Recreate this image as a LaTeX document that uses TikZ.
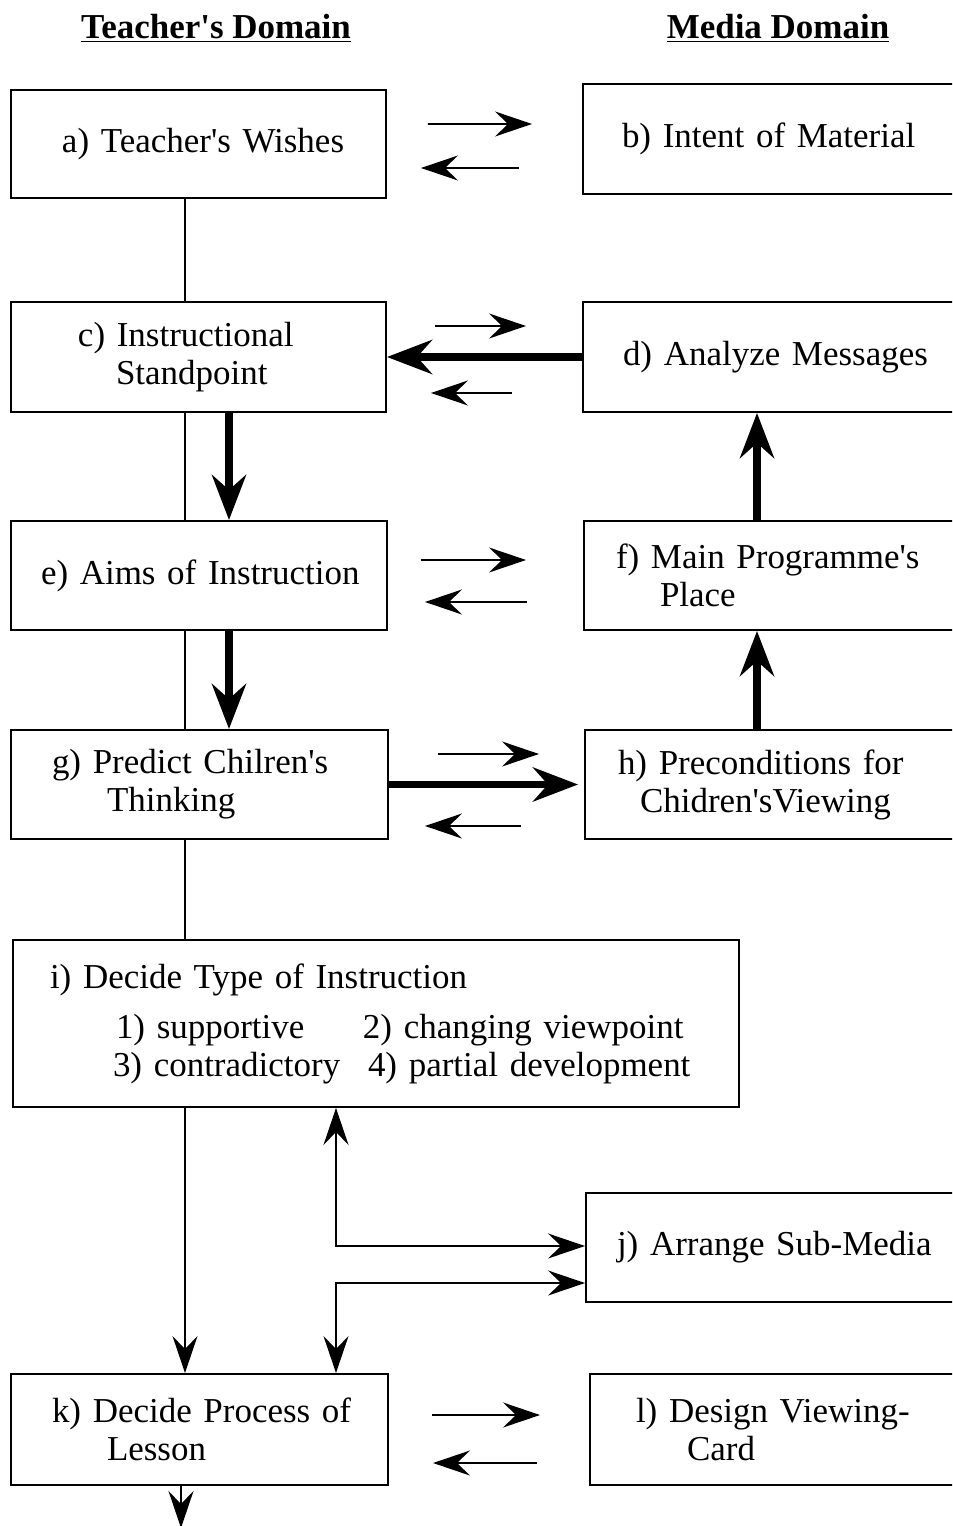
\documentclass[tikz,border=0pt]{standalone}
\usepackage{fontspec}
\setmainfont{Liberation Serif}
\usetikzlibrary{arrows.meta}
\newcommand{\apo}{\textquotesingle}
\tikzset{
  box/.style={draw, line width=1.1pt, inner sep=0pt, align=left,
    font=\fontsize{19.9pt}{21.6pt}\selectfont},
  head/.style={font=\fontsize{19.9pt}{21.6pt}\selectfont\bfseries},
  thinline/.style={line width=1.1pt},
  thinarrow/.style={line width=1.1pt, >={Stealth[length=0.74cm, width=0.5cm, inset=0.26cm]}},
  thickarrow/.style={line width=4.5pt, >={Stealth[length=0.9cm, width=0.68cm, inset=0.3cm]}}
}
\begin{document}
\begin{tikzpicture}
  \useasboundingbox (0,0) rectangle (19.04,-30.52);
  \clip (0,0) rectangle (19.04,-30.52);
  % headings
  \node[head] (thead) at (4.32,-0.56) {\underline{Teacher\apo s Domain}};
  \node[head] (mhead) at (15.56,-0.56) {\underline{Media Domain}};
  % teacher's side
  \node[box, text width=7.5cm, minimum height=2.16cm] (a) at (3.97,-2.88) {\hspace*{1.02cm}a) Teacher\apo s Wishes};
  \node[box, text width=7.5cm, minimum height=2.2cm] (c) at (3.97,-7.14) {\hspace*{1.34cm}c) Instructional\\\hspace*{2.1cm}Standpoint};
  \node[box, text width=7.52cm, minimum height=2.18cm] (e) at (3.98,-11.51) {\hspace*{0.6cm}e) Aims of Instruction};
  \node[box, text width=7.54cm, minimum height=2.18cm] (g) at (3.99,-15.69) {\hspace*{0.82cm}g) Predict Chilren\apo s\\\hspace*{1.92cm}Thinking};
  \node[box, text width=14.52cm, minimum height=3.34cm] (i) at (7.52,-20.47) {\hspace*{0.74cm}i) Decide Type of Instruction\\[0.24cm]
    \hspace*{2.06cm}\makebox[4.94cm][l]{1) supportive}2) changing viewpoint\\
    \hspace*{2cm}\makebox[5.1cm][l]{3) contradictory}4) partial development};
  \node[box, text width=7.54cm, minimum height=2.22cm] (k) at (3.99,-28.59) {\hspace*{0.82cm}k) Decide Process of\\\hspace*{1.92cm}Lesson};
  % media side
  \node[box, text width=7.64cm, minimum height=2.2cm] (b) at (15.48,-2.78) {\hspace*{0.78cm}b) Intent of Material};
  \node[box, text width=7.64cm, minimum height=2.2cm] (d) at (15.48,-7.14) {\hspace*{0.8cm}d) Analyze Messages};
  \node[box, text width=7.62cm, minimum height=2.18cm] (f) at (15.49,-11.51) {\hspace*{0.64cm}f) Main Programme\apo s\\\hspace*{1.52cm}Place};
  \node[box, text width=7.6cm, minimum height=2.18cm] (h) at (15.5,-15.69) {\hspace*{0.66cm}h) Preconditions for\\\hspace*{1.1cm}Chidren\apo sViewing};
  \node[box, text width=7.58cm, minimum height=2.18cm] (j) at (15.51,-24.95) {\hspace*{0.62cm}j) Arrange Sub-Media};
  \node[box, text width=7.5cm, minimum height=2.22cm] (l) at (15.55,-28.59) {\hspace*{0.92cm}l) Design Viewing-\\\hspace*{1.94cm}Card};
  % columns of the vertical links
  \coordinate (ln1) at (3.7,0);
  \coordinate (ln2) at (4.58,0);
  \coordinate (ln3) at (15.14,0);
  \coordinate (ln4) at (6.72,0);
  \coordinate (out) at (3.62,-30.56);
  % vertical links
  \draw[thinline] (a.south -| ln1) -- (c.north -| ln1);
  \draw[thinline] (c.south -| ln1) -- (e.north -| ln1);
  \draw[thinline] (e.south -| ln1) -- (g.north -| ln1);
  \draw[thinline] (g.south -| ln1) -- (i.north -| ln1);
  \draw[thinarrow, ->] (i.south -| ln1) -- (k.north -| ln1);
  \draw[thinarrow, ->] (k.south -| out) -- (out);
  \draw[thickarrow, ->] (c.south -| ln2) -- (e.north -| ln2);
  \draw[thickarrow, ->] (e.south -| ln2) -- (g.north -| ln2);
  \draw[thickarrow, ->] (h.north -| ln3) -- (f.south -| ln3);
  \draw[thickarrow, ->] (f.north -| ln3) -- (d.south -| ln3);
  \draw[thinarrow, <->] (i.south -| ln4) |- ([yshift=0.03cm]j.west);
  \draw[thinarrow, <->] ([yshift=-0.71cm]j.west) -| (k.north -| ln4);
  % thick horizontal links
  \draw[thickarrow, ->] (d.west) -- (c.east);
  \draw[thickarrow, ->, shorten >=0.12cm] (g.east) -- (h.west);
  % pairs of thin arrows
  \draw[thinarrow, ->, shorten <=0.82cm, shorten >=1cm] ([yshift=0.4cm]a.east) -- ([yshift=0.3cm]b.west);
  \draw[thinarrow, <-, shorten <=0.68cm, shorten >=1.26cm] ([yshift=-0.48cm]a.east) -- ([yshift=-0.58cm]b.west);
  \draw[thinarrow, ->, shorten <=0.96cm, shorten >=1.12cm] ([yshift=0.62cm]c.east) -- ([yshift=0.62cm]d.west);
  \draw[thinarrow, <-, shorten <=0.88cm, shorten >=1.4cm] ([yshift=-0.72cm]c.east) -- ([yshift=-0.72cm]d.west);
  \draw[thinarrow, ->, shorten <=0.66cm, shorten >=1.14cm] ([yshift=0.31cm]e.east) -- ([yshift=0.31cm]f.west);
  \draw[thinarrow, <-, shorten <=0.74cm, shorten >=1.12cm] ([yshift=-0.53cm]e.east) -- ([yshift=-0.53cm]f.west);
  \draw[thinarrow, ->, shorten <=0.98cm, shorten >=0.9cm] ([yshift=0.61cm]g.east) -- ([yshift=0.61cm]h.west);
  \draw[thinarrow, <-, shorten <=0.72cm, shorten >=1.26cm] ([yshift=-0.83cm]g.east) -- ([yshift=-0.83cm]h.west);
  \draw[thinarrow, ->, shorten <=0.86cm, shorten >=0.98cm] ([yshift=0.29cm]k.east) -- ([yshift=0.29cm]l.west);
  \draw[thinarrow, <-, shorten <=0.88cm, shorten >=1.04cm] ([yshift=-0.67cm]k.east) -- ([yshift=-0.67cm]l.west);
\end{tikzpicture}
\end{document}
